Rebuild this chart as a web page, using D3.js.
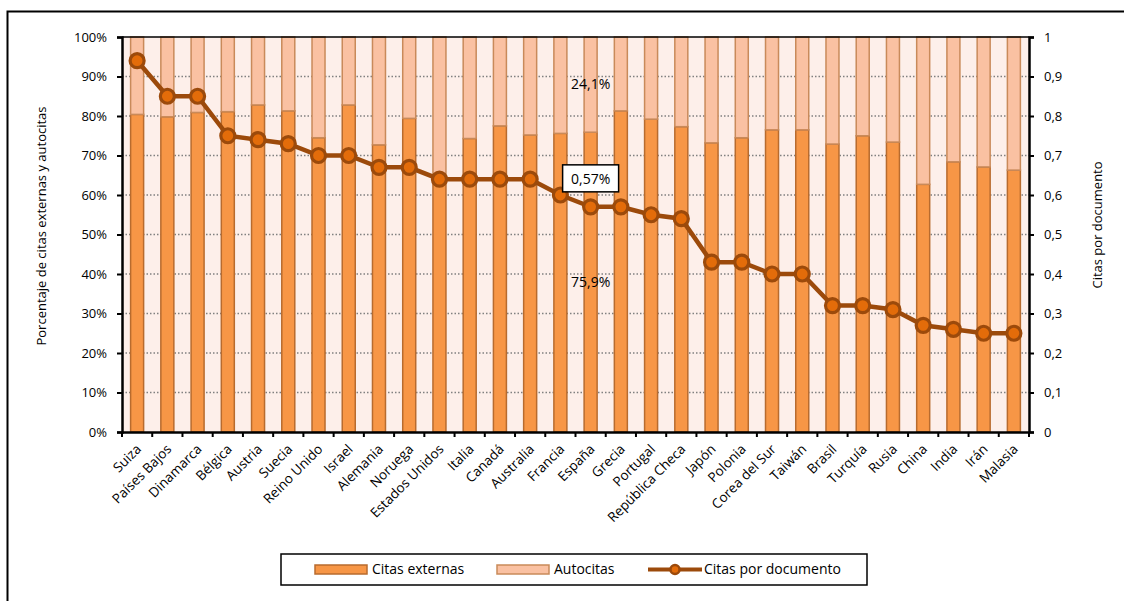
<html>
  <head>
    <script src="https://cdn.jsdelivr.net/npm/d3@7"></script>
    <style>
      body { margin: 0; background: #fff; }
      text { font-family: "Open Sans", sans-serif; fill: #000; }
    </style>
  </head>
  <body>
    <div id="chart"></div>
    <script>
      // data
      const countries = ["Suiza", "Países Bajos", "Dinamarca", "Bélgica", "Austria", "Suecia",
        "Reino Unido", "Israel", "Alemania", "Noruega", "Estados Unidos", "Italia", "Canadá",
        "Australia", "Francia", "España", "Grecia", "Portugal", "República Checa", "Japón",
        "Polonia", "Corea del Sur", "Taiwán", "Brasil", "Turquía", "Rusia", "China", "India",
        "Irán", "Malasia"];
      const citasExternas = [80.4, 79.8, 80.9, 81.1, 82.8, 81.3, 74.5, 82.8, 72.7, 79.4, 64.0,
        74.3, 77.5, 75.2, 75.6, 75.9, 81.3, 79.2, 77.3, 73.2, 74.5, 76.5, 76.5, 72.9, 75.0,
        73.4, 62.7, 68.4, 67.1, 66.3];
      const autocitas = [19.6, 20.2, 19.1, 18.9, 17.2, 18.7, 25.5, 17.2, 27.3, 20.6, 36.0,
        25.7, 22.5, 24.8, 24.4, 24.1, 18.7, 20.8, 22.7, 26.8, 25.5, 23.5, 23.5, 27.1, 25.0,
        26.6, 37.3, 31.6, 32.9, 33.7];
      const citasPorDoc = [0.94, 0.85, 0.85, 0.75, 0.74, 0.73, 0.70, 0.70, 0.67, 0.67, 0.64,
        0.64, 0.64, 0.64, 0.60, 0.57, 0.57, 0.55, 0.54, 0.43, 0.43, 0.40, 0.40, 0.32, 0.32,
        0.31, 0.27, 0.26, 0.25, 0.25];
      const leftTicks = [0, 10, 20, 30, 40, 50, 60, 70, 80, 90, 100];
      const rightTicks = [0, 0.1, 0.2, 0.3, 0.4, 0.5, 0.6, 0.7, 0.8, 0.9, 1];
      const highlight = "España";
      const seriesNames = ["Citas externas", "Autocitas", "Citas por documento"];

      const colExt = "#F79646", colExtStroke = "#B86B2E";
      const colAuto = "#FAC1A2", colAutoStroke = "#C98A5A";
      const colLine = "#9C4A0B", colMarker = "#E36C0A";

      let margin = { top: 37, right: 95, bottom: 169, left: 122 },
        width = 1124 - margin.left - margin.right,
        height = 601 - margin.top - margin.bottom;

      const root = d3.select("#chart").append("svg")
        .attr("width", 1124)
        .attr("height", 601);

      // outer chart frame
      root.append("rect")
        .attr("x", 7.5).attr("y", 11.5)
        .attr("width", 1300).attr("height", 800)
        .attr("fill", "none").attr("stroke", "#000").attr("stroke-width", 2);

      const svg = root.append("g")
        .attr("transform", `translate(${margin.left},${margin.top})`);

      let x = d3.scaleBand().domain(countries).range([0, width]);
      let y = d3.scaleLinear().domain([0, 100]).range([height, 0]);
      let y2 = d3.scaleLinear().domain([0, 1]).range([height, 0]);

      // plot background
      svg.append("rect")
        .attr("width", width).attr("height", height)
        .attr("fill", "#FDEFEA");

      // dotted grid
      svg.selectAll(".grid")
        .data(leftTicks.slice(1, -1))
        .join("line")
        .attr("x1", 0).attr("x2", width)
        .attr("y1", (d) => y(d)).attr("y2", (d) => y(d))
        .attr("stroke", "#808080")
        .attr("stroke-width", 1.4)
        .attr("stroke-dasharray", "1.5,2");

      // stacked bars
      let barW = x.bandwidth() * 0.43;
      let bars = svg.append("g").selectAll("g")
        .data(countries)
        .join("g")
        .attr("transform", (d) => `translate(${x(d) + (x.bandwidth() - barW) / 2},0)`);

      bars.append("rect")
        .attr("y", (d, i) => y(citasExternas[i]))
        .attr("width", barW)
        .attr("height", (d, i) => height - y(citasExternas[i]))
        .attr("fill", colExt)
        .attr("stroke", colExtStroke)
        .attr("stroke-width", 1.5);

      bars.append("rect")
        .attr("y", (d, i) => y(citasExternas[i] + autocitas[i]))
        .attr("width", barW)
        .attr("height", (d, i) => y(citasExternas[i]) - y(citasExternas[i] + autocitas[i]))
        .attr("fill", colAuto)
        .attr("stroke", colAutoStroke)
        .attr("stroke-width", 1.5);

      // top border of plot area
      svg.append("line")
        .attr("x1", 0).attr("x2", width)
        .attr("y1", 0).attr("y2", 0)
        .attr("stroke", "#000").attr("stroke-width", 1.5);

      // axes
      let yAxis = d3.axisLeft(y).tickValues(leftTicks).tickSize(5).tickPadding(10)
        .tickFormat((d) => d + "%");
      let yAxisGroup = svg.append("g").call(yAxis);

      let y2Axis = d3.axisRight(y2).tickValues(rightTicks).tickSize(5).tickPadding(10)
        .tickFormat((d) => String(d).replace(".", ","));
      let y2AxisGroup = svg.append("g")
        .attr("transform", `translate(${width},0)`)
        .call(y2Axis);

      let xAxis = d3.axisBottom(x).tickSize(0).tickFormat("");
      let xAxisGroup = svg.append("g")
        .attr("transform", `translate(0,${height})`)
        .call(xAxis);

      // x ticks between categories
      svg.append("g").selectAll("line")
        .data(countries.concat(["end"]))
        .join("line")
        .attr("x1", (d, i) => i * x.step()).attr("x2", (d, i) => i * x.step())
        .attr("y1", height).attr("y2", height + 5)
        .attr("stroke", "#000").attr("stroke-width", 2);

      [yAxisGroup, y2AxisGroup, xAxisGroup].forEach((g) => {
        g.select(".domain").attr("stroke", "#000").attr("stroke-width", 2.5);
        g.selectAll(".tick line").attr("stroke", "#000").attr("stroke-width", 2);
        g.selectAll("text").style("font-size", "13px").attr("fill", "#000");
      });

      // rotated category labels
      svg.append("g").selectAll("text")
        .data(countries)
        .join("text")
        .attr("transform", (d) => `translate(${x(d) + x.bandwidth() / 2 + 5},${height + 18}) rotate(-45)`)
        .attr("text-anchor", "end")
        .style("font-size", "13.5px")
        .text((d) => d);

      // line series
      let line = d3.line()
        .x((d, i) => x(countries[i]) + x.bandwidth() / 2)
        .y((d) => y2(d));

      svg.append("path")
        .datum(citasPorDoc)
        .attr("d", line)
        .attr("fill", "none")
        .attr("stroke", colLine)
        .attr("stroke-width", 4.5);

      svg.append("g").selectAll("circle")
        .data(citasPorDoc)
        .join("circle")
        .attr("cx", (d, i) => x(countries[i]) + x.bandwidth() / 2)
        .attr("cy", (d) => y2(d))
        .attr("r", 7)
        .attr("fill", colMarker)
        .attr("stroke", colLine)
        .attr("stroke-width", 3.2);

      // data labels for the highlighted country
      let hi = countries.indexOf(highlight);
      let hx = x(highlight) + x.bandwidth() / 2;
      const fmt = (v, dec) => v.toFixed(dec).replace(".", ",") + "%";

      svg.append("text")
        .attr("x", hx).attr("y", y(citasExternas[hi] + autocitas[hi] / 2))
        .attr("text-anchor", "middle").attr("dy", "0.35em")
        .style("font-size", "14px")
        .text(fmt(autocitas[hi], 1));

      svg.append("text")
        .attr("x", hx).attr("y", y(citasExternas[hi] / 2))
        .attr("text-anchor", "middle").attr("dy", "0.35em")
        .style("font-size", "14px")
        .text(fmt(citasExternas[hi], 1));

      let lblY = y2(citasPorDoc[hi]) - 28;
      svg.append("rect")
        .attr("x", hx - 28).attr("y", lblY - 14)
        .attr("width", 56).attr("height", 27)
        .attr("fill", "#fff").attr("stroke", "#000").attr("stroke-width", 1.5);
      svg.append("text")
        .attr("x", hx).attr("y", lblY)
        .attr("text-anchor", "middle").attr("dy", "0.35em")
        .style("font-size", "14px")
        .text(fmt(citasPorDoc[hi], 2));

      // axis titles
      root.append("text")
        .attr("transform", "translate(46,226) rotate(-90)")
        .attr("text-anchor", "middle")
        .style("font-size", "13px")
        .text("Porcentaje de citas externas y autocitas");

      root.append("text")
        .attr("transform", "translate(1102,225) rotate(-90)")
        .attr("text-anchor", "middle")
        .style("font-size", "13px")
        .text("Citas por documento");

      // legend
      let legend = root.append("g");
      legend.append("rect")
        .attr("x", 281).attr("y", 554)
        .attr("width", 586).attr("height", 31)
        .attr("fill", "#fff").attr("stroke", "#000").attr("stroke-width", 1.5);

      let lgY = 569.5;
      legend.append("rect")
        .attr("x", 315).attr("y", lgY - 4.5).attr("width", 52).attr("height", 9)
        .attr("fill", colExt).attr("stroke", colExtStroke).attr("stroke-width", 1.5);
      legend.append("text")
        .attr("x", 372).attr("y", lgY).attr("dy", "0.35em")
        .style("font-size", "14px").text(seriesNames[0]);

      legend.append("rect")
        .attr("x", 497).attr("y", lgY - 4.5).attr("width", 52).attr("height", 9)
        .attr("fill", colAuto).attr("stroke", colAutoStroke).attr("stroke-width", 1.5);
      legend.append("text")
        .attr("x", 554).attr("y", lgY).attr("dy", "0.35em")
        .style("font-size", "14px").text(seriesNames[1]);

      legend.append("line")
        .attr("x1", 648).attr("x2", 702).attr("y1", lgY).attr("y2", lgY)
        .attr("stroke", colLine).attr("stroke-width", 4);
      legend.append("circle")
        .attr("cx", 675).attr("cy", lgY).attr("r", 4.5)
        .attr("fill", colMarker).attr("stroke", colLine).attr("stroke-width", 2.5);
      legend.append("text")
        .attr("x", 704).attr("y", lgY).attr("dy", "0.35em")
        .style("font-size", "14px").text(seriesNames[2]);
    </script>
  </body>
</html>
